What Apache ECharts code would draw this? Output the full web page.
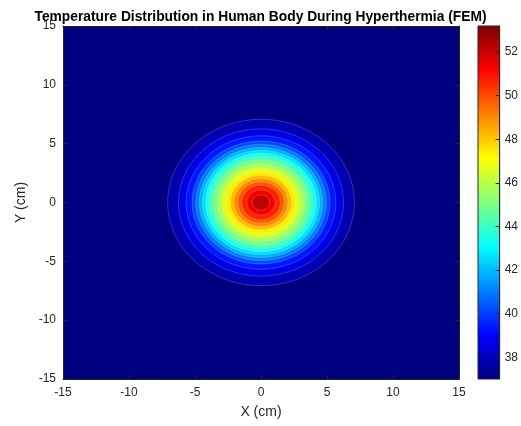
<!DOCTYPE html>
<html>
<head>
<meta charset="utf-8">
<script src="https://cdn.jsdelivr.net/npm/echarts@6/dist/echarts.min.js"></script>
<style>html,body{margin:0;padding:0;background:#fff;}#chart{width:521px;height:426px;}</style>
</head>
<body>
<div id="chart"></div>
<script>
// ---- data ----
const axisRange = [-15, 15];
const axisInterval = 5;
const ambientTemp = 37.0;          // temperature outside the heated region
const tempMin = 37.0;              // colour scale limits
const tempMax = 53.2;
// contour levels (deg C) and radius (cm) at which each level is reached
const levels = [37.8, 38.6, 39.4, 40.2, 41.0, 41.8, 42.6, 43.4, 44.2, 45.0,
                45.8, 46.6, 47.4, 48.2, 49.0, 49.8, 50.6, 51.4, 52.2, 53.0];
const radii  = [7.07, 6.25, 5.67, 5.22, 4.94, 4.67, 4.43, 4.18, 3.93, 3.63,
                3.29, 2.96, 2.63, 2.31, 2.03, 1.75, 1.46, 1.06, 0.65, 0.13];
const colorbarTicks = [38, 40, 42, 44, 46, 48, 50, 52];

const jet = ['#000080', '#0000ff', '#0080ff', '#00ffff', '#80ff80', '#ffff00', '#ff8000', '#ff0000', '#800000'];
const ink = '#262626';
const font = 'Arial, "Liberation Sans", Helvetica, sans-serif';

const chart = echarts.init(document.getElementById('chart'), null, {renderer: 'canvas'});

const bandData = levels.map((lv, i) => [lv, radii[i]]);

function mainAxis(pos, showLabel, name, isY) {
  return {
    type: 'value', gridIndex: 0, position: pos, z: 10,
    min: axisRange[0], max: axisRange[1], interval: axisInterval,
    axisLine: {show: true, onZero: false, lineStyle: {color: ink, width: 1}},
    axisTick: {show: true, inside: true, length: 4, lineStyle: {color: ink, width: 1}},
    axisLabel: {show: showLabel, color: ink, fontSize: 12, fontFamily: font, margin: isY ? 7 : 8},
    splitLine: {show: false},
    name: name, nameLocation: 'middle', nameGap: isY ? 30 : 26,
    nameTextStyle: {color: ink, fontSize: 14, fontFamily: font}
  };
}

const option = {
  backgroundColor: '#ffffff',
  animation: false,
  title: {
    text: 'Temperature Distribution in Human Body During Hyperthermia (FEM)',
    left: 'center', top: 5,
    textStyle: {fontSize: 13.8, fontWeight: 'bold', color: '#000', fontFamily: font}
  },
  grid: [
    {left: 63, top: 26, width: 396, height: 353},
    {left: 478, top: 26, width: 24, height: 353}
  ],
  xAxis: [
    mainAxis('bottom', true, 'X (cm)', false),
    mainAxis('top', false, '', false),
    {type: 'value', gridIndex: 1, min: 0, max: 1, show: false}
  ],
  yAxis: [
    mainAxis('left', true, 'Y (cm)', true),
    mainAxis('right', false, '', true),
    {
      type: 'value', gridIndex: 1, position: 'right', min: tempMin, max: tempMax, z: 10,
      axisLine: {show: true, onZero: false, lineStyle: {color: ink, width: 1}},
      axisTick: {show: true, inside: true, length: 4, customValues: colorbarTicks, lineStyle: {color: ink, width: 1}},
      axisLabel: {show: true, customValues: colorbarTicks, color: ink, fontSize: 12, fontFamily: font, margin: 5},
      splitLine: {show: false}
    }
  ],
  visualMap: {
    type: 'continuous', show: false, min: tempMin, max: tempMax,
    dimension: 0, seriesIndex: [0, 1], inRange: {color: jet}
  },
  series: [
    {
      type: 'custom', xAxisIndex: 0, yAxisIndex: 0, clip: true,
      data: [[ambientTemp]],
      encode: {x: -1, y: -1},
      renderItem: function (params, api) {
        const a = api.coord([axisRange[0], axisRange[1]]);
        const b = api.coord([axisRange[1], axisRange[0]]);
        return {type: 'rect', shape: {x: a[0], y: a[1], width: b[0] - a[0], height: b[1] - a[1]},
                style: {fill: api.visual('color')}};
      }
    },
    {
      type: 'custom', xAxisIndex: 0, yAxisIndex: 0, clip: true,
      data: bandData,
      encode: {x: -1, y: -1},
      renderItem: function (params, api) {
        const r = api.value(1);
        const pts = [];
        for (let d = 0; d < 360; d += 2) {
          const t = d * Math.PI / 180;
          pts.push(api.coord([r * Math.cos(t), r * Math.sin(t)]));
        }
        return {type: 'polygon', shape: {points: pts},
                style: {fill: api.visual('color'), stroke: 'rgba(255,255,255,0.32)', lineWidth: 0.6}};
      }
    },
    {
      type: 'custom', xAxisIndex: 2, yAxisIndex: 2,
      data: [[tempMin, tempMax]],
      encode: {x: -1, y: -1},
      renderItem: function (params, api) {
        const top = api.coord([0, api.value(1)]);
        const bot = api.coord([1, api.value(0)]);
        const stops = jet.map((c, i) => ({offset: i / (jet.length - 1), color: c}));
        return {type: 'rect',
                shape: {x: top[0], y: top[1], width: bot[0] - top[0], height: bot[1] - top[1]},
                style: {fill: new echarts.graphic.LinearGradient(0, 1, 0, 0, stops), stroke: ink, lineWidth: 1}};
      }
    }
  ]
};
chart.setOption(option);
</script>
</body>
</html>
